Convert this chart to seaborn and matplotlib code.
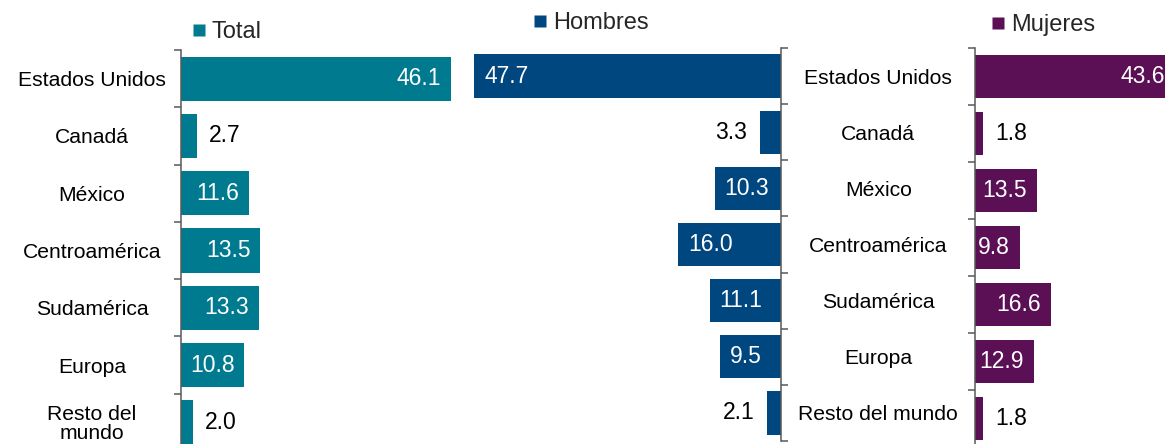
import matplotlib
matplotlib.use('Agg')
import matplotlib.pyplot as plt
import seaborn as sns
from matplotlib.lines import Line2D

# datos
regiones = ['Estados Unidos', 'Canadá', 'México', 'Centroamérica',
            'Sudamérica', 'Europa', 'Resto del mundo']
etiquetas_total = ['Estados Unidos', 'Canadá', 'México', 'Centroamérica',
                   'Sudamérica', 'Europa', 'Resto del\nmundo']
total = [46.1, 2.7, 11.6, 13.5, 13.3, 10.8, 2.0]
hombres = [47.7, 3.3, 10.3, 16.0, 11.1, 9.5, 2.1]
mujeres = [43.6, 1.8, 13.5, 9.8, 16.6, 12.9, 1.8]

col_total = '#007A8F'
col_hombres = '#00467F'
col_mujeres = '#5B0F55'
gris = '#595959'

sns.set_theme(style='white')
plt.rcParams['font.family'] = ['Liberation Sans', 'DejaVu Sans']

W, H = 1165, 444
fig = plt.figure(figsize=(W / 100, H / 100), dpi=100)


def caja(x0, x1, y0, y1):
    # pixel box -> figure fraction
    return [x0 / W, 1 - y1 / H, (x1 - x0) / W, (y1 - y0) / H]


ax_t = fig.add_axes(caja(181, 181 + 48 * 5.86, 50, 451))
ax_h = fig.add_axes(caja(781 - 48 * 6.43, 781, 48, 441))
ax_m = fig.add_axes(caja(975, 975 + 48 * 4.57, 48, 447))


def panel(ax, valores, color, invertido=False):
    sns.barplot(x=valores, y=regiones, color=color, saturation=1, width=0.77,
                linewidth=0, orient='h', ax=ax)
    ax.set_ylim(6.5, -0.5)
    if invertido:
        ax.set_xlim(48, 0)
    else:
        ax.set_xlim(0, 48)
    ax.xaxis.set_visible(False)
    ax.patch.set_alpha(0)
    for s in ['top', 'bottom', 'left', 'right']:
        ax.spines[s].set_visible(False)
    lado = 'right' if invertido else 'left'
    ax.spines[lado].set_visible(True)
    ax.spines[lado].set_color(gris)
    ax.spines[lado].set_linewidth(1.1)
    ax.set_yticks(range(len(regiones)))
    ax.set_yticks([i - 0.5 for i in range(len(regiones) + 1)], minor=True)
    ax.tick_params(axis='y', which='minor', length=5, width=1.1, color=gris,
                   left=not invertido, right=invertido)
    ax.tick_params(axis='y', which='major', length=0,
                   left=not invertido, right=invertido,
                   labelleft=not invertido, labelright=invertido)
    # etiquetas de valor
    for i, v in enumerate(valores):
        dentro = v > 5
        if invertido:
            dx, ha = (7, 'left') if dentro else (-9, 'right')
        else:
            dx, ha = (-7, 'right') if dentro else (9, 'left')
        ax.annotate(f'{v:.1f}', (v, i), xytext=(dx, 0), textcoords='offset points',
                    ha=ha, va='center', fontsize=16.5,
                    color='white' if dentro else 'black')


panel(ax_t, total, col_total)
panel(ax_h, hombres, col_hombres, invertido=True)
panel(ax_m, mujeres, col_mujeres)

ax_t.set_yticklabels(etiquetas_total, ha='center', fontsize=15.2,
                     linespacing=1.0, color='black')
ax_t.tick_params(axis='y', which='major', pad=64)
ax_h.set_yticklabels(regiones, ha='center', fontsize=15.2, color='black')
ax_h.tick_params(axis='y', which='major', pad=70)
ax_m.set_yticklabels([])

# leyendas
for ax, nombre, color, x, y in [(ax_t, 'Total', col_total, 193, 32),
                                (ax_h, 'Hombres', col_hombres, 534, 23),
                                (ax_m, 'Mujeres', col_mujeres, 992, 25)]:
    marca = Line2D([], [], marker='s', linestyle='none', markersize=8,
                   markerfacecolor=color, markeredgecolor='none')
    ax.legend(handles=[marca], labels=[nombre],
              loc='center left', bbox_to_anchor=(x / W, 1 - y / H),
              bbox_transform=fig.transFigure, frameon=False, borderpad=0,
              borderaxespad=0, handlelength=0.5, handletextpad=0.3,
              fontsize=17)

fig.savefig('out.png', dpi=100)
